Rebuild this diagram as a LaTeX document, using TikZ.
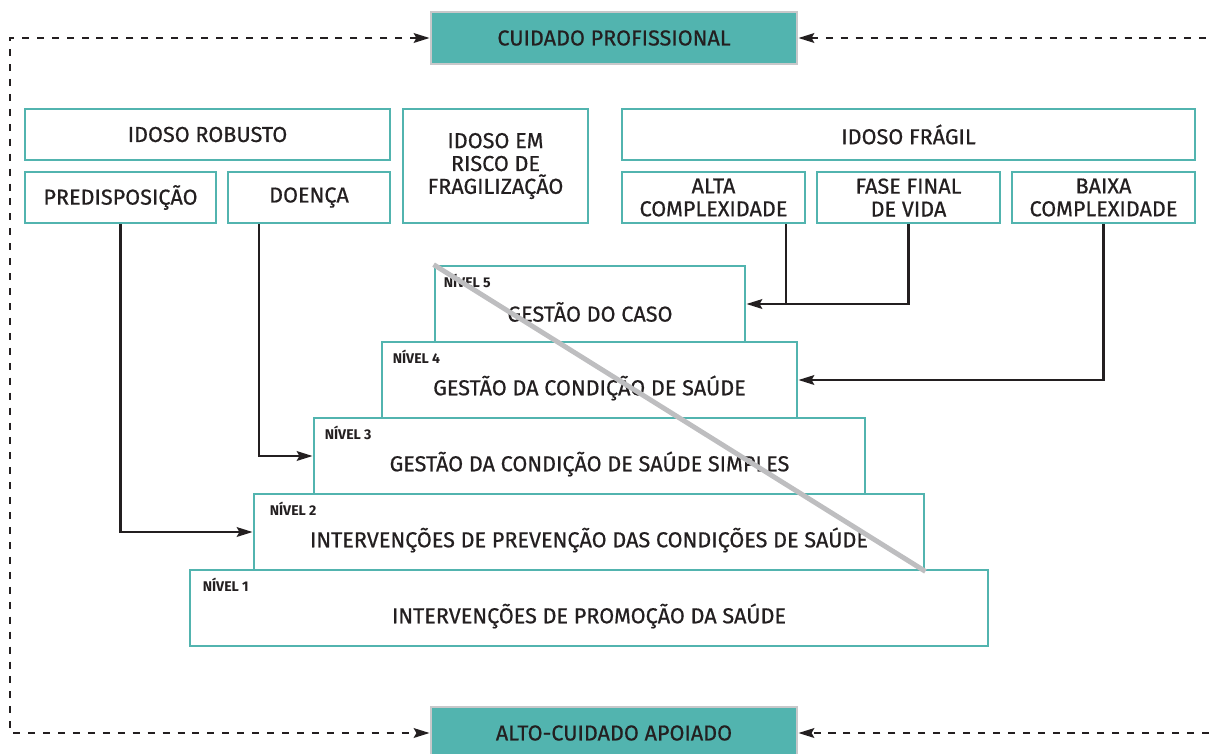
\documentclass[tikz,border=0pt]{standalone}
\usepackage{fontspec}
\setmainfont{Fira Sans}[UprightFeatures={FakeBold=0.6}]
\usetikzlibrary{arrows.meta}
\definecolor{tealc}{RGB}{82,180,175}
\definecolor{txtc}{RGB}{35,31,32}
\definecolor{rimc}{RGB}{200,200,202}
\definecolor{diagc}{RGB}{190,190,192}

\begin{document}
\begin{tikzpicture}[every node/.style={font=\fontsize{12.3}{13}\selectfont, text=txtc},
	box/.style={draw=tealc, line width=1.6pt, align=center, inner sep=0pt, minimum height=1.02cm},
	cuidado/.style={draw=rimc, fill=tealc, line width=1.6pt, minimum width=7.32cm, minimum height=1.04cm, inner sep=0pt},
	lvbox/.style={draw=tealc, line width=1.6pt, minimum height=1.52cm, inner sep=0pt},
	lvtag/.style={anchor=west, font=\fontsize{8}{9}\selectfont\bfseries},
	arr/.style={line width=1.3pt, draw=txtc, -{Stealth[length=9pt,width=5.5pt,inset=1.5pt]}},
	dashln/.style={line width=1.3pt, draw=txtc, dash pattern=on 4pt off 4.5pt,
		{Stealth[length=9pt,width=5.5pt,inset=1.5pt]}-{Stealth[length=9pt,width=5.5pt,inset=1.5pt]}}]
		\useasboundingbox (0,0) rectangle (24.18,-15.06);

		% professional and supported care
		\node[cuidado] (prof)  at (12.28,-0.76)  {CUIDADO PROFISSIONAL};
		\node[cuidado] (apoio) at (12.28,-14.66) {ALTO-CUIDADO APOIADO};

		% who is the elderly
		\node[box, minimum width=7.30cm] (robusto) at (4.15,-2.69)  {IDOSO ROBUSTO};
		\node[box, minimum width=3.82cm] (predisp) at (2.41,-3.95)  {PREDISPOSIÇÃO};
		\node[box, minimum width=3.24cm] (doenca)  at (6.18,-3.95)  {DOENÇA};
		\node[box, minimum width=3.70cm, minimum height=2.28cm] (risco) at (9.91,-3.32) {IDOSO EM\\RISCO DE\\FRAGILIZAÇÃO};
		\node[box, minimum width=11.46cm] (fragil) at (18.17,-2.69) {IDOSO FRÁGIL};
		\node[box, minimum width=3.66cm] (alta)  at (14.27,-3.95) {ALTA\\COMPLEXIDADE};
		\node[box, minimum width=3.66cm] (fase)  at (18.17,-3.95) {FASE FINAL\\DE VIDA};
		\node[box, minimum width=3.66cm] (baixa) at (22.07,-3.95) {BAIXA\\COMPLEXIDADE};

		% the five levels
		\node[lvbox, minimum width=6.20cm]  (lv5) at (11.80,-6.08)  {};
		\node[lvbox, minimum width=8.30cm]  (lv4) at (11.79,-7.60)  {};
		\node[lvbox, minimum width=11.02cm] (lv3) at (11.79,-9.12)  {};
		\node[lvbox, minimum width=13.40cm] (lv2) at (11.78,-10.64) {};
		\node[lvbox, minimum width=15.96cm] (lv1) at (11.78,-12.16) {};

		\node[lvtag] (n5) at ([xshift=.08cm,yshift=-.32cm]lv5.north west) {NÍVEL 5};
		\node[lvtag] (n4) at ([xshift=.12cm,yshift=-.32cm]lv4.north west) {NÍVEL 4};
		\node[lvtag] (n3) at ([xshift=.12cm,yshift=-.32cm]lv3.north west) {NÍVEL 3};
		\node[lvtag] (n2) at ([xshift=.22cm,yshift=-.32cm]lv2.north west) {NÍVEL 2};
		\node[lvtag] (n1) at ([xshift=.16cm,yshift=-.32cm]lv1.north west) {NÍVEL 1};

		\node (t5) at ([yshift=-.16cm]lv5.center) {GESTÃO DO CASO};
		\node (t4) at ([yshift=-.16cm]lv4.center) {GESTÃO DA CONDIÇÃO DE SAÚDE};
		\node (t3) at ([yshift=-.16cm]lv3.center) {GESTÃO DA CONDIÇÃO DE SAÚDE SIMPLES};
		\node (t2) at ([yshift=-.16cm]lv2.center) {INTERVENÇÕES DE PREVENÇÃO DAS CONDIÇÕES DE SAÚDE};
		\node (t1) at ([yshift=-.16cm]lv1.center) {INTERVENÇÕES DE PROMOÇÃO DA SAÚDE};

		\draw[diagc, line width=2.8pt] (lv5.north west) -- (lv2.south east);

		% connectors
		\coordinate (j1) at (15.72,-6.08);
		\coordinate (j3) at (5.18,-9.12);
		\draw[arr] (alta.south -| j1) -- (j1) -- (lv5.east);
		\draw[line width=1.3pt, txtc] (fase.south) |- (j1);
		\draw[arr] (baixa.south) |- (lv4.east);
		\draw[arr] (doenca.south -| j3) -- (j3) -- (lv3.west);
		\draw[arr] (predisp.south) |- (lv2.west);

		% dashed loop
		\coordinate (tl) at (0.2,-0.76);
		\coordinate (bl) at (0.2,-14.66);
		\coordinate (tr) at (24.6,-0.76);
		\coordinate (br) at (24.6,-14.66);
		\draw[dashln] (prof.west) -- (tl) -- (bl) -- (apoio.west);
		\draw[dashln] (prof.east) -- (tr) -- (br) -- (apoio.east);
	\end{tikzpicture}
\end{document}
